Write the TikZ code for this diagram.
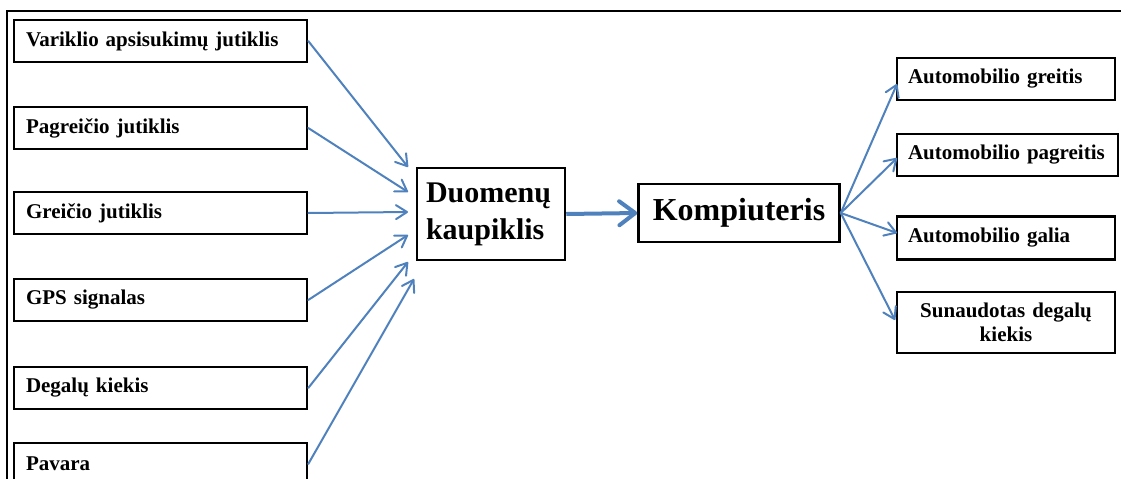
\documentclass[tikz,border=0pt]{standalone}
\usepackage{fontspec}
\setmainfont{Liberation Serif}
\usetikzlibrary{arrows.meta}
\definecolor{flowblue}{HTML}{4F81BD}

\begin{document}
\begin{tikzpicture}[x=1pt,y=-1pt,
  box/.style={draw=black, line width=2.5pt, inner sep=0pt, fill=white,
    font=\bfseries\fontsize{21}{24}\selectfont},
  inbox/.style={box, minimum width=293pt, minimum height=42pt,
    text width=269pt, align=left},
  outbox/.style={box, minimum width=218pt, minimum height=42pt,
    text width=196pt, align=left},
  thinarrow/.style={draw=flowblue, line width=2pt, line cap=round,
    -{Straight Barb[length=11pt,width=14pt,round]}},
  thickarrow/.style={draw=flowblue, line width=4pt,
    -{Straight Barb[length=16pt,width=24pt,round]}}]

  \useasboundingbox (0,0) rectangle (1122,479);

  % open frame around the scheme
  \draw[line width=1.5pt] (7,479) -- (7,11) -- (1121,11);

  % sensors
  \node[inbox] (v1) at (160.5,41)  {Variklio apsisukimų jutiklis};
  \node[inbox] (v2) at (160.5,128) {Pagreičio jutiklis};
  \node[inbox] (v3) at (160.5,213) {Greičio jutiklis};
  \node[inbox] (v4) at (160.5,300) {GPS signalas};
  \node[inbox] (v5) at (160.5,388) {Degalų kiekis};
  \node[inbox] (v6) at (160.5,464) {Pavara};

  % data logger and computer
  \node[box, minimum width=148pt, minimum height=92pt, text width=130pt,
        align=left, font=\bfseries\fontsize{30}{37}\selectfont]
        (dk) at (491,214) {Duomenų\\kaupiklis};
  \node[box, minimum width=201pt, minimum height=58pt,
        font=\bfseries\fontsize{32}{38}\selectfont]
        (pc) at (739,213) {Kompiuteris};

  % results
  \node[outbox] (r1) at (1006,79) {Automobilio greitis};
  \node[outbox, minimum width=221pt, text width=199pt] (r2) at (1007.5,155) {Automobilio pagreitis};
  \node[outbox, minimum height=43pt] (r3) at (1006,238) {Automobilio galia};
  \node[outbox, minimum height=61pt, align=center] (r4) at (1006,322.5) {Sunaudotas degalų\\kiekis};

  % arrow ends in front of the data logger
  \coordinate (t1) at (408,167);
  \coordinate (t2) at (408,192);
  \coordinate (t3) at (408,212);
  \coordinate (t4) at (408,235);
  \coordinate (t5) at (408,262);
  \coordinate (t6) at (414,279);

  % arrow ends at the result boxes
  \coordinate (o1) at (897,84);
  \coordinate (o2) at (897,158);
  \coordinate (o3) at (897,233);
  \coordinate (o4) at (895,320);

  \draw[thinarrow] (v1.east) -- (t1);
  \draw[thinarrow] (v2.east) -- (t2);
  \draw[thinarrow] (v3.east) -- (t3);
  \draw[thinarrow] (v4.east) -- (t4);
  \draw[thinarrow] (v5.east) -- (t5);
  \draw[thinarrow] (v6.east) -- (t6);

  \draw[thickarrow] (dk.east) -- (pc.west);

  \draw[thinarrow] (pc.east) -- (o1);
  \draw[thinarrow] (pc.east) -- (o2);
  \draw[thinarrow] (pc.east) -- (o3);
  \draw[thinarrow] (pc.east) -- (o4);
\end{tikzpicture}
\end{document}
